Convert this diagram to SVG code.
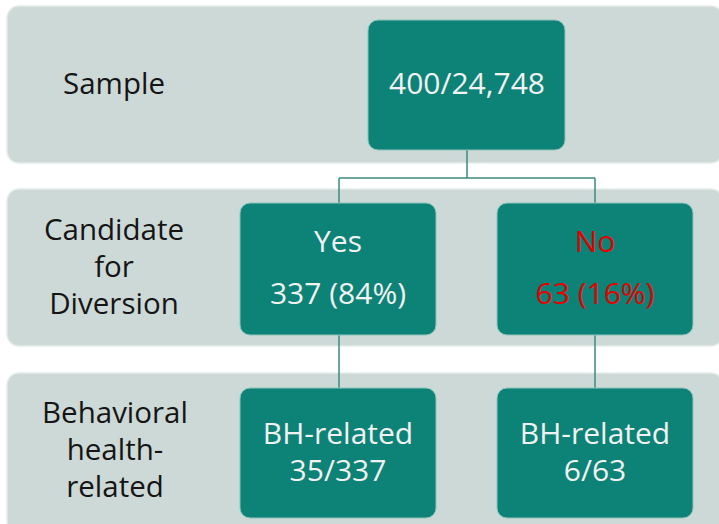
<svg xmlns="http://www.w3.org/2000/svg" width="719" height="524" viewBox="0 0 719 524">
<style>
.band{fill:#cdd9d6;stroke:#e4ecea;stroke-width:1.5}
.node{fill:#0d8276;stroke:#8fc4bd;stroke-width:1}
.lbl{font-family:"Open Sans","Noto Sans",sans-serif;font-size:29.5px;fill:#151515;text-anchor:middle}
.nt{font-family:"Open Sans","Noto Sans",sans-serif;font-size:30px;fill:#f2f2f2;text-anchor:middle}
.red{fill:#e80000}
.conn{fill:none;stroke:#3d8a80;stroke-width:1.5}
</style>
<rect width="719" height="524" fill="#ffffff"/>
<g id="band-sample">
<rect class="band" x="7" y="6" width="716" height="157" rx="12"/>
<text class="lbl" x="114" y="94">Sample</text>
</g>
<g id="band-candidate">
<rect class="band" x="7" y="189" width="716" height="157" rx="12"/>
<text class="lbl" x="114" y="240">Candidate</text>
<text class="lbl" x="114" y="277">for</text>
<text class="lbl" x="114" y="314">Diversion</text>
</g>
<g id="band-bh">
<rect class="band" x="7" y="373" width="716" height="160" rx="12"/>
<text class="lbl" x="115" y="423">Behavioral</text>
<text class="lbl" x="115" y="460">health-</text>
<text class="lbl" x="115" y="497">related</text>
</g>
<g id="connectors">
<path class="conn" d="M467 150 V178 M339 178 H595 M339 178 V203 M595 178 V203"/>
<path class="conn" d="M339 335 V388 M595 335 V388"/>
</g>
<g id="node-sample">
<rect class="node" x="368" y="20" width="197" height="130" rx="10"/>
<text class="nt" x="467" y="94">400/24,748</text>
</g>
<g id="node-yes">
<rect class="node" x="240" y="203" width="196" height="132" rx="10"/>
<text class="nt" x="338" y="252">Yes</text>
<text class="nt" x="338" y="304">337 (84%)</text>
</g>
<g id="node-no">
<rect class="node" x="497" y="203" width="196" height="132" rx="10"/>
<text class="nt red" x="595" y="252">No</text>
<text class="nt red" x="595" y="304">63 (16%)</text>
</g>
<g id="node-bh-yes">
<rect class="node" x="240" y="388" width="196" height="130" rx="10"/>
<text class="nt" x="338" y="444">BH-related</text>
<text class="nt" x="338" y="481">35/337</text>
</g>
<g id="node-bh-no">
<rect class="node" x="497" y="388" width="196" height="130" rx="10"/>
<text class="nt" x="595" y="444">BH-related</text>
<text class="nt" x="595" y="481">6/63</text>
</g>
</svg>
